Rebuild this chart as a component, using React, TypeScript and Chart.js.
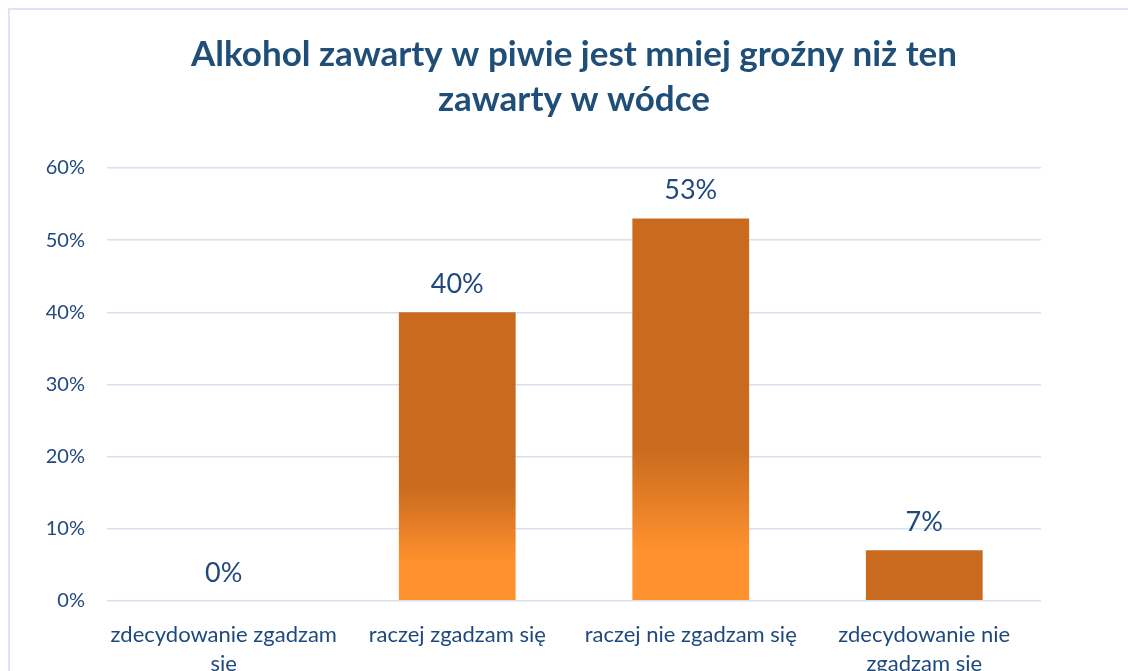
import React, { useEffect, useRef } from "react";
import { Chart, registerables } from "chart.js";

Chart.register(...registerables);

const titleLines = ["Alkohol zawarty w piwie jest mniej groźny niż ten", "zawarty w wódce"];
const categories: string[][] = [
  ["zdecydowanie zgadzam", "się"],
  ["raczej zgadzam się"],
  ["raczej nie zgadzam się"],
  ["zdecydowanie nie", "zgadzam się"],
];
const values = [0, 40, 53, 7];
const yMin = 0;
const yMax = 60;
const yStep = 10;

const DARK = "#C96A1E";
const LIGHT = "#FF922E";
const TEXT = "#1F497D";
const GRID = "#D6E0EE";
const FONT = "Lato, 'Open Sans', sans-serif";

const titlePlugin = {
  id: "centeredTitle",
  afterDraw(chart: any) {
    const ctx = chart.ctx;
    ctx.save();
    ctx.font = `bold 35px ${FONT}`;
    ctx.fillStyle = "#1F4E79";
    ctx.textAlign = "center";
    ctx.textBaseline = "middle";
    const cx = (chart.chartArea.left + chart.chartArea.right) / 2 + 0;
    titleLines.forEach((line, i) => {
      ctx.fillText(line, cx, 55 + i * 45);
    });
    ctx.restore();
  },
};

const dataLabelPlugin = {
  id: "dataLabels",
  afterDatasetsDraw(chart: any) {
    const ctx = chart.ctx;
    const meta = chart.getDatasetMeta(0);
    ctx.save();
    ctx.font = `27px ${FONT}`;
    ctx.fillStyle = TEXT;
    ctx.textAlign = "center";
    ctx.textBaseline = "middle";
    meta.data.forEach((bar: any, i: number) => {
      ctx.fillText(`${values[i]}%`, bar.x, bar.y - 28);
    });
    ctx.restore();
  },
};

export default function App() {
  const ref = useRef<HTMLCanvasElement>(null);
  useEffect(() => {
    if (!ref.current) return;
    const chart = new Chart(ref.current, {
      type: "bar",
      data: {
        labels: categories,
        datasets: [
          {
            data: values,
            categoryPercentage: 0.5,
            barPercentage: 1,
            backgroundColor: (c: any) => {
              const ch = c.chart;
              if (!ch.chartArea || c.dataIndex === undefined) return DARK;
              const ys = ch.scales.y;
              const v = values[c.dataIndex];
              const top = ys.getPixelForValue(v);
              const base = ys.getPixelForValue(0);
              if (base - top < 80) return DARK;
              const g = ch.ctx.createLinearGradient(0, top, 0, base);
              g.addColorStop(0, DARK);
              g.addColorStop(0.6, DARK);
              g.addColorStop(0.87, LIGHT);
              g.addColorStop(1, LIGHT);
              return g;
            },
          },
        ],
      },
      options: {
        responsive: false,
        animation: false,
        layout: { padding: { left: 0, right: 87, top: 168, bottom: 2 } },
        plugins: {
          legend: { display: false },
          tooltip: { enabled: false },
          title: { display: false },
        },
        scales: {
          x: {
            grid: { display: false, drawTicks: false },
            border: { display: false },
            ticks: {
              color: TEXT,
              font: { family: FONT, size: 22, lineHeight: 1.3 },
              padding: 20,
              maxRotation: 0,
              autoSkip: false,
            },
          },
          y: {
            min: yMin,
            max: yMax,
            afterFit: (s: any) => {
              s.width = 107;
            },
            grid: { color: GRID, lineWidth: 1.5, drawTicks: false },
            border: { display: false },
            ticks: {
              stepSize: yStep,
              color: TEXT,
              padding: 22,
              font: { family: FONT, size: 20 },
              callback: (v: any) => `${v}%`,
            },
          },
        },
      },
      plugins: [dataLabelPlugin, titlePlugin],
    });
    return () => chart.destroy();
  }, []);

  return (
    <div
      style={{
        position: "fixed",
        left: 0,
        top: 0,
        width: 1128,
        height: 671,
        overflow: "hidden",
        background: "#fff",
      }}
    >
      <div
        style={{
          position: "absolute",
          left: 8,
          top: 8,
          width: 1200,
          height: 700,
          borderTop: "2px solid #DCE5F2",
          borderLeft: "2px solid #DCE5F2",
        }}
      />
      <canvas
        ref={ref}
        width={1128}
        height={700}
        style={{ position: "absolute", left: 0, top: 0, width: 1128, height: 700 }}
      />
    </div>
  );
}
